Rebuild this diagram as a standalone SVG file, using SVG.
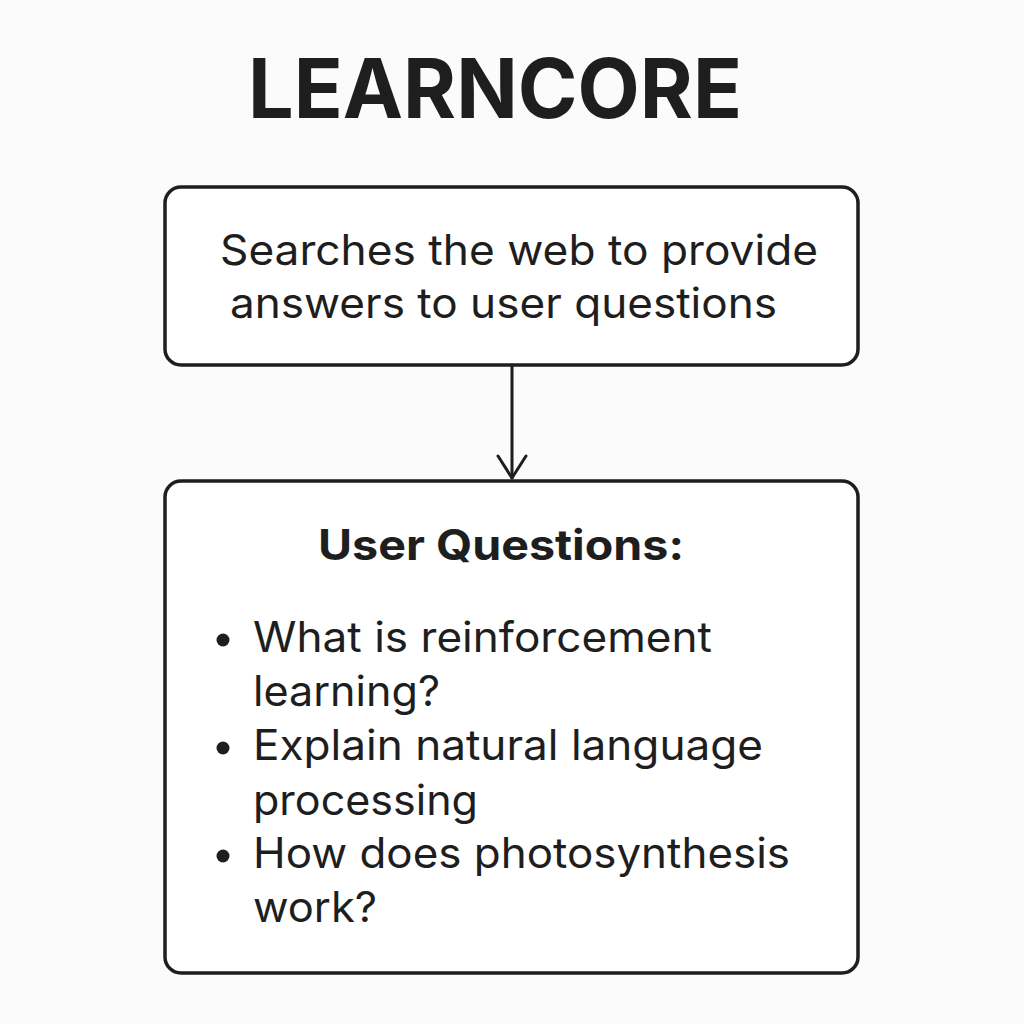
<svg xmlns="http://www.w3.org/2000/svg" width="1024" height="1024" viewBox="0 0 1024 1024">
<defs>
<style>
.box{fill:#ffffff;stroke:#1e1e1e;stroke-width:3.5}
.t{font-family:Inter,"Liberation Sans",sans-serif;fill:#1e1e1e;font-size:42px}
.b{font-weight:700}
.title{font-size:82px}
.conn{stroke:#1e1e1e;stroke-width:3;fill:none;stroke-linecap:round;stroke-linejoin:round}
.dot{fill:#1e1e1e}
</style>
</defs>
<rect width="1024" height="1024" fill="#fbfbfb"/>
<text class="t b title" x="248" y="118" textLength="494" lengthAdjust="spacingAndGlyphs">LEARNCORE</text>
<g id="node-search">
<rect class="box" x="165" y="187" width="693" height="178" rx="16"/>
<text class="t" x="220" y="265" textLength="598" lengthAdjust="spacingAndGlyphs">Searches the web to provide</text>
<text class="t" x="230" y="318" textLength="547" lengthAdjust="spacingAndGlyphs">answers to user questions</text>
</g>
<g id="node-questions">
<rect class="box" x="165" y="481" width="693" height="492" rx="16"/>
<text class="t b" x="318" y="560" textLength="366" lengthAdjust="spacingAndGlyphs">User Questions:</text>
<circle class="dot" cx="223" cy="640" r="6.5"/>
<circle class="dot" cx="223" cy="748" r="6.5"/>
<circle class="dot" cx="223" cy="856" r="6.5"/>
<text class="t" x="253" y="652" textLength="459" lengthAdjust="spacingAndGlyphs">What is reinforcement</text>
<text class="t" x="253" y="706" textLength="187" lengthAdjust="spacingAndGlyphs">learning?</text>
<text class="t" x="253" y="760" textLength="510" lengthAdjust="spacingAndGlyphs">Explain natural language</text>
<text class="t" x="253" y="815" textLength="225" lengthAdjust="spacingAndGlyphs">processing</text>
<text class="t" x="253" y="868" textLength="537" lengthAdjust="spacingAndGlyphs">How does photosynthesis</text>
<text class="t" x="253" y="922" textLength="124" lengthAdjust="spacingAndGlyphs">work?</text>
</g>
<g id="connectors">
<line class="conn" x1="512" y1="366" x2="512" y2="478"/>
<polyline class="conn" points="498,456 512,478 526,456"/>
</g>
</svg>
